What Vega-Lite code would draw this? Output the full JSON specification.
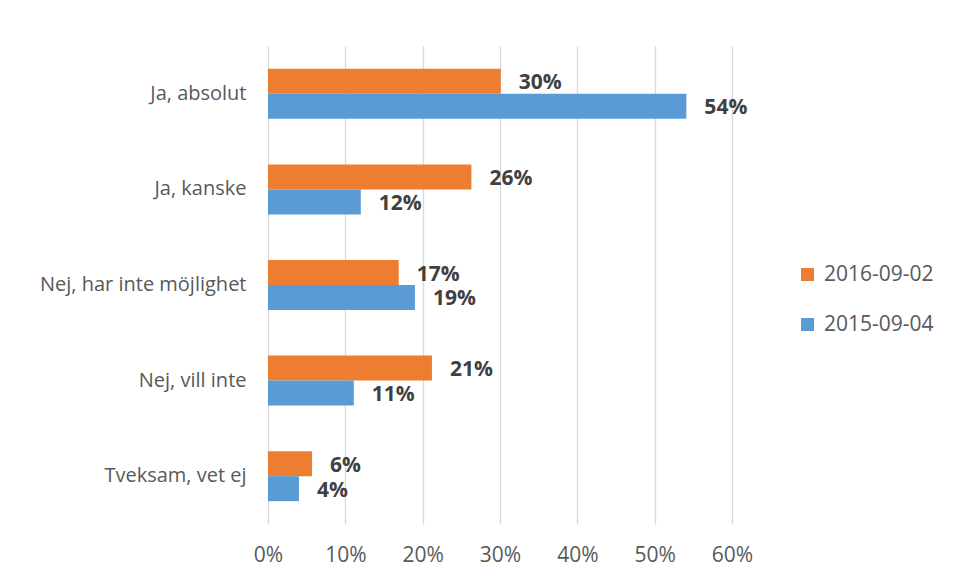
{
  "$schema": "https://vega.github.io/schema/vega-lite/v6.json",
  "autosize": "none",
  "width": 464,
  "height": 478,
  "padding": {"left": 268, "top": 46, "right": 222, "bottom": 56},
  "background": "white",
  "config": {
    "view": {"stroke": null},
    "font": "Open Sans",
    "axis": {"labelFont": "Open Sans", "labelColor": "#595959", "labelFontSize": 21}
  },
  "data": {
    "values": [
      {"svar": "Ja, absolut", "serie": "2016-09-02", "andel": 0.301},
      {"svar": "Ja, absolut", "serie": "2015-09-04", "andel": 0.541},
      {"svar": "Ja, kanske", "serie": "2016-09-02", "andel": 0.263},
      {"svar": "Ja, kanske", "serie": "2015-09-04", "andel": 0.12},
      {"svar": "Nej, har inte möjlighet", "serie": "2016-09-02", "andel": 0.169},
      {"svar": "Nej, har inte möjlighet", "serie": "2015-09-04", "andel": 0.19},
      {"svar": "Nej, vill inte", "serie": "2016-09-02", "andel": 0.212},
      {"svar": "Nej, vill inte", "serie": "2015-09-04", "andel": 0.111},
      {"svar": "Tveksam, vet ej", "serie": "2016-09-02", "andel": 0.057},
      {"svar": "Tveksam, vet ej", "serie": "2015-09-04", "andel": 0.04}
    ]
  },
  "encoding": {
    "y": {
      "field": "svar", "type": "nominal", "sort": null,
      "scale": {"paddingInner": 0.477, "paddingOuter": 0.2385},
      "axis": {"title": null, "ticks": false, "domain": false, "labelPadding": 22, "grid": false, "labelLimit": 400, "labelFontSize": 20}
    },
    "yOffset": {
      "field": "serie", "type": "nominal",
      "sort": ["2016-09-02", "2015-09-04"],
      "scale": {"paddingInner": 0, "paddingOuter": 0}
    },
    "x": {
      "field": "andel", "type": "quantitative",
      "scale": {"domain": [0, 0.6], "nice": false},
      "axis": {"title": null, "format": ".0%", "values": [0, 0.1, 0.2, 0.3, 0.4, 0.5, 0.6], "ticks": false, "domain": false, "grid": true, "gridColor": "#D9D9D9", "gridWidth": 1.3, "labelPadding": 20, "labelFlush": false, "labelFontSize": 21}
    }
  },
  "layer": [
    {
      "mark": {"type": "bar"},
      "encoding": {
        "color": {
          "field": "serie", "type": "nominal",
          "scale": {"domain": ["2016-09-02", "2015-09-04"], "range": ["#ED7D31", "#5B9BD5"]},
          "legend": {
            "title": null, "orient": "none", "legendX": 529, "legendY": 218,
            "symbolType": "square", "symbolSize": 169, "symbolStrokeWidth": 0,
            "labelFontSize": 21, "labelColor": "#595959", "labelFont": "Open Sans",
            "rowPadding": 28, "labelOffset": 6
          }
        }
      }
    },
    {
      "mark": {"type": "text", "align": "left", "dx": 18, "dy": 2, "fontWeight": "bold", "fontSize": 21, "color": "#404040", "font": "Open Sans"},
      "encoding": {
        "text": {"field": "andel", "type": "quantitative", "format": ".0%"}
      }
    }
  ]
}
